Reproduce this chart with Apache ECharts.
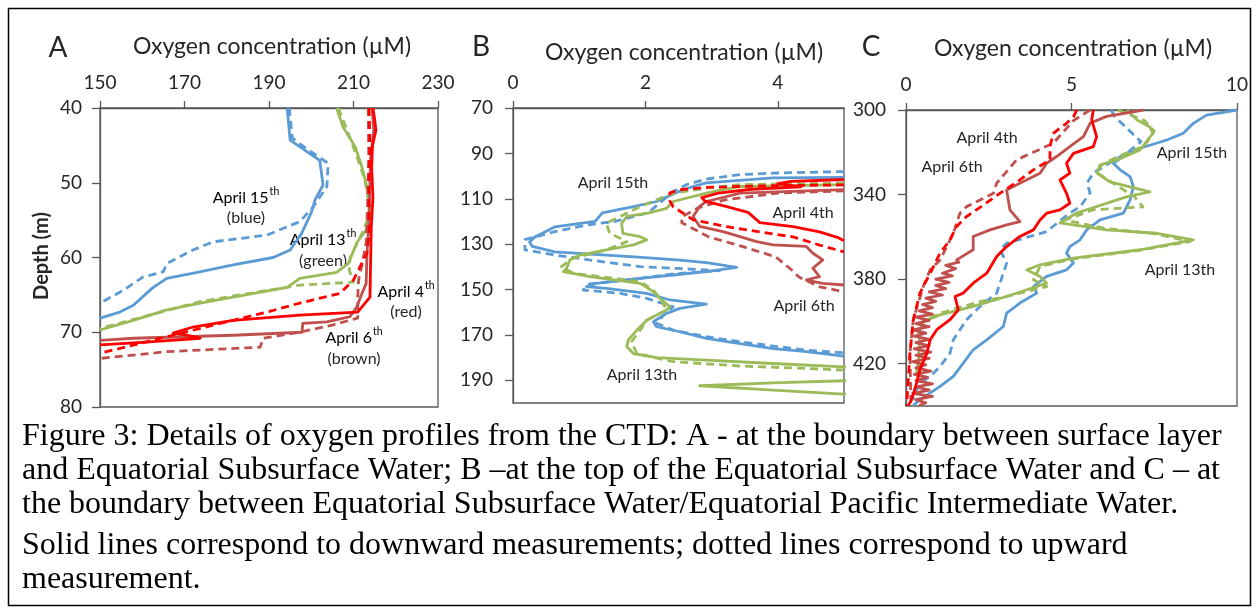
<!DOCTYPE html>
<html><head><meta charset="utf-8">
<script src="https://cdn.jsdelivr.net/npm/echarts@6/dist/echarts.min.js"></script>
<style>html,body{margin:0;padding:0;background:#fff;} #c{width:1259px;height:613px;}</style>
</head><body><div id="c"></div>
<script>
// ---------- Tick labels ----------
const A_xTicks = [150, 170, 190, 210, 230];
const A_yTicks = [40, 50, 60, 70, 80];
const B_xTicks = [0, 2, 4];
const B_yTicks = [70, 90, 110, 130, 150, 170, 190];
const C_xTicks = [0, 5, 10];
const C_yTicks = [300, 340, 380, 420];

// ---------- Panel A: [oxygen µM, depth m] ----------
const A_blue_down = [[194.3,40],[195,44.3],[202,47],[202.8,50.3],[200.9,52.3],[200,54],[197.7,56.8],[195,59],[191,60],[181.5,61],[173,62],[165.8,62.8],[162.6,64],[161,64.8],[157.9,66.4],[154.7,67.3],[150,68.1]];
const A_blue_up = [[194.8,40],[195.5,44],[199,45.5],[204,47.4],[203.7,50.5],[200.5,53.2],[197.3,55.2],[189.5,57],[176.8,57.9],[172,59],[165.8,60.8],[165,61.9],[160.2,62.6],[155.5,64.4],[150,66.1]];
const A_green_down = [[206,40],[207.5,42.5],[210.4,45.2],[212,47.9],[213.2,50.6],[214,54],[213.5,55.9],[210.8,58],[208.8,60.8],[206,62],[197.3,62.8],[194.3,64],[181.5,65.3],[173.7,66.1],[165.8,67],[157.9,68.4],[150,69.7]];
const A_green_up = [[206.4,40],[208.5,43],[210.8,46.5],[212.7,49.6],[214,54],[212,56.8],[209.2,60],[209,61.7],[210,63.3],[197.3,63.7],[189.5,64.4],[173.7,65.9],[161.8,67.7],[150,69.5]];
const A_red_down = [[214.6,40],[215,41.5],[215.3,43],[214.5,45],[214.3,48],[214.6,52],[214.2,56],[214,62.1],[213.9,65.3],[211,67.3],[197.3,67.7],[181.5,68.4],[172,69.3],[167.3,70.1],[170.5,70.4],[173.7,70.8],[161.8,71.3],[150,71.7]];
const A_red_up = [[213.7,40],[213.9,45],[213.6,50],[213.7,56.8],[213.2,59.4],[211.5,61.3],[210,63],[206.8,64.8],[197.3,66.1],[189.5,67.3],[181.5,68.4],[165.8,70.6],[159.5,71.5],[150,72.8]];
const A_brown_down = [[214.4,40],[214.8,43],[214,47],[213.8,52],[213.5,56.7],[213.2,59.4],[213,63.5],[212,64.8],[210.8,66.6],[209.2,67.9],[203.7,68.6],[198,68.8],[197.8,70],[181.5,70.4],[158,70.8],[150,71.1]];
const A_brown_up = [[213.5,40],[213.6,46],[213.4,52],[213,58],[212,61],[211.2,63],[211,65.3],[211,68.1],[205.2,69],[197.3,70],[188.6,70.8],[187.9,72],[165.8,72.6],[150,73.5]];

// ---------- Panel B ----------
const B_blue_down = [[5,100.6],[3.93,100.8],[2.92,103],[2.72,104.6],[2.49,107],[2.17,111.2],[1.8,113.6],[1.35,116.2],[1.24,120],[0.63,122.4],[0.33,126.8],[0.25,129],[0.29,131],[0.63,133.4],[1.89,135.7],[2.52,137],[2.92,138.1],[3.38,140.2],[2.92,142.1],[2.42,143.6],[1.92,145.1],[1.26,147.3],[1.11,148.7],[1.41,149.5],[2.02,151.7],[2.37,154.6],[2.92,156.4],[2.52,158.3],[2.32,160.5],[2.12,164.2],[2.17,166.4],[2.52,168.6],[2.92,171.5],[3.43,173.8],[3.93,176],[4.43,177.4],[5,179.3]];
const B_blue_up = [[5,98],[3.93,98.7],[3.43,99.4],[2.92,101.3],[2.62,103.8],[2.42,106.8],[2.04,116.2],[1.54,120],[1.13,121.5],[0.63,124.5],[0.18,128],[0.18,132.5],[0.63,134.8],[1.39,137.9],[1.92,139.9],[2.42,140.6],[3.12,141.7],[2.42,143.1],[1.72,145.8],[1.16,147.5],[1.06,150.2],[1.62,151.7],[2.02,153.9],[2.42,157.6],[2.32,159.8],[2.17,164.9],[2.42,167.9],[2.92,170.8],[3.43,173],[3.93,174.9],[4.43,176.7],[5,177.9]];
const B_green_down = [[5,103.8],[3.43,104.6],[3.17,106],[2.92,107.5],[2.42,111.2],[2.32,114.2],[2.02,116.4],[1.72,117.8],[1.64,120.8],[1.66,125.2],[1.92,126.7],[2.02,128.1],[1.82,130.3],[1.41,132.5],[1.01,134.8],[0.86,136.9],[0.81,140.6],[0.76,142.1],[1.16,144.3],[1.92,147.3],[2.12,150.9],[2.22,153.9],[2.37,157.6],[2.32,159],[2.02,163.5],[1.87,167.9],[1.74,172.3],[1.72,175.2],[1.82,178.2],[2.17,180],[2.92,181.1],[3.93,182.6],[5,184.1],[6,185],[6,189.5],[5,190.2],[3.93,191.1],[2.82,192.4],[3.93,194.3],[5,196.1],[6,197]];
const B_green_up = [[5,103],[3.43,103.8],[2.92,105.3],[2.42,107.5],[2.17,110.5],[1.92,113.4],[1.62,117.8],[1.41,120.8],[1.46,125.2],[1.72,128.9],[1.41,132.5],[0.91,136.2],[0.73,139.9],[0.91,142.8],[1.31,144.3],[1.92,146.5],[2.12,150.2],[2.24,154.6],[2.32,159],[2.02,163.5],[1.92,167.9],[1.79,173],[1.87,178.2],[2.42,181.8],[3.43,183.7],[4.43,184.8],[5,185.5]];
const B_red_down = [[5,101.5],[4.2,102.3],[4.0,103.3],[4.35,104.8],[3.6,105.8],[3.1,107.5],[2.85,109.5],[2.9,111],[3.23,113.5],[3.55,116],[3.73,120.5],[4.23,122.3],[4.63,124.6],[4.9,127],[5,128.5]];
const B_red_up = [[5,103.9],[3.93,104.2],[2.92,105],[2.52,106],[2.37,107.4],[2.37,111],[2.42,113.5],[2.72,119.3],[3.23,122.3],[3.73,124.6],[4.23,126.8],[4.63,130.4],[5,133.4]];
const B_brown_down = [[5,106],[3.43,107.5],[3.23,109],[2.92,111.2],[2.82,113.4],[2.72,117.8],[2.82,122.2],[3.17,124.5],[3.43,126.7],[3.68,128.9],[3.93,130.3],[4.43,131],[4.53,134],[4.68,136.9],[4.53,140.6],[4.63,144.3],[4.43,145.8],[4.68,147.3],[5,148]];
const B_brown_up = [[5,106.5],[4.0,107.5],[3.2,110.5],[2.8,114],[2.55,118],[2.55,120.6],[2.96,126.8],[3.46,131],[3.97,135.6],[4.21,141.4],[4.32,144.5],[4.63,148.8],[5,151]];

// ---------- Panel C ----------
const C_blue_down = [[10,300],[9.08,302.4],[8.68,306.3],[8.38,311],[7.88,314.2],[7.07,318.1],[6.57,322],[6.26,325.2],[6.47,328.3],[6.77,331.5],[6.87,336.2],[6.77,342.5],[6.57,348.8],[5.86,352],[5.46,356.7],[5.26,361.4],[4.95,364.6],[4.85,367.7],[5.06,372.4],[4.85,375.6],[4.25,378.7],[3.85,383.5],[3.95,386.6],[3.44,391.3],[3.04,396.1],[2.94,402.4],[2.44,408.7],[2.03,413.4],[1.73,419.7],[1.43,426],[1.03,430.7],[0.42,437],[0.22,439.8]];
const C_blue_up = [[6.2,300],[6.3,303],[7.1,315],[6.68,320.3],[6.16,325],[5.66,329.8],[5.47,334.5],[5.56,339.2],[5.26,345.8],[4.95,348.7],[4.25,357.5],[3.04,363],[2.84,366],[3.04,372.4],[2.84,381.9],[2.74,386.6],[2.24,392.9],[1.83,399.2],[1.43,408.7],[1.33,415],[1.03,421.3],[0.73,426],[0.42,429.1],[0.3,433],[0.22,437]];
const C_green_down = [[6.68,300],[6.98,304.7],[7.37,308],[7.46,311],[7.07,318.9],[6.37,323.6],[5.86,326],[5.77,329.8],[6.16,334],[7.37,338.7],[6.68,341],[5.16,348.7],[4.65,353.4],[6.06,356.7],[7.57,358.3],[8.68,361.4],[7.07,366.1],[5.06,370.1],[4.05,373.2],[3.65,375.6],[4.05,378.7],[4.25,381.9],[3.65,385],[3.04,388.2],[2.03,392.9],[1.03,396.9],[0.52,400],[0.42,403.9],[0.38,418],[0.32,424.4]];
const C_green_up = [[6.4,300],[7.2,305],[7.5,310],[7.2,317],[6.4,322],[5.9,326],[5.8,330],[6.2,334],[6.9,341],[7.16,345.8],[5.66,347.2],[4.8,352],[6.0,356],[7.5,358.5],[8.58,362.2],[7.0,366.5],[5.0,370.5],[4.05,374],[3.85,380.3],[4.25,383.5],[3.04,388.2],[2.24,390.6],[1.03,396.1],[0.42,400.8],[0.35,410]];
const C_red_down = [[5.66,300],[5.61,304.7],[5.76,312.6],[5.66,317.3],[5.06,320.5],[4.85,325.2],[4.95,329.9],[4.65,333.1],[4.85,339.4],[4.95,344.1],[4.65,347.2],[4.25,348.8],[4.05,352],[3.85,356.7],[3.44,359.8],[3.04,364.6],[2.74,369.3],[2.44,377.2],[2.03,381.9],[1.73,386.6],[1.48,388.2],[1.58,394.5],[1.33,399.2],[0.93,403.9],[0.73,408.7],[0.63,415],[0.42,422.8],[0.32,429.1],[0.17,437],[0.07,439.8]];
const C_red_up = [[5.16,300],[5.06,303.1],[4.85,306.3],[4.45,311],[4.35,317.3],[4.35,323.6],[3.85,328.3],[3.44,333.1],[2.84,339.4],[2.34,344.9],[1.83,350.4],[1.53,355.1],[1.33,361.4],[1.03,367.7],[0.73,377.2],[0.42,386.6],[0.22,399.2],[0.12,415],[0.02,439.8]];
const C_brown_down = [[7.17,300],[6.06,303],[5.56,306.3],[5.36,312.6],[5.06,316],[4.55,322],[4.25,325.2],[4.05,329.9],[3.44,334.6],[3.04,337.8],[3.14,347.2],[3.44,352.8],[3.04,354.3],[2.54,356.7],[2.03,359.8],[2.03,366.1],[1.53,370.9],[1.6,372],[1.2,373.5],[1.5,375],[1.1,377.2],[1.4,378.5],[0.9,380],[1.3,381.5],[0.9,383],[1.2,384.5],[0.7,386],[1.1,387.5],[0.6,389],[0.9,390.5],[0.5,392],[0.8,393.5],[0.4,395],[0.8,396.5],[0.3,398],[0.7,399.5],[0.3,401],[0.7,402.5],[0.2,404],[0.6,405.5],[0.25,407],[0.7,408.5],[0.3,410],[0.7,411.5],[0.25,413],[0.75,414.5],[0.3,416],[0.7,417.5],[0.2,419],[0.6,420.5],[0.3,422],[0.75,423.5],[0.25,425],[0.65,426.5],[0.3,428],[0.8,429.5],[0.3,431],[0.7,432.5],[0.2,434],[0.8,435.5],[0.3,437],[0.6,438.5],[0.4,439.8]];
const C_brown_up = [[5.56,300],[5.06,305],[4.45,315.7],[3.34,323.6],[2.74,334.6],[2.64,339.4],[1.83,345.7],[1.63,348.8],[1.43,358.3],[1.03,370.9],[0.73,375.6],[0.52,383.5],[0.22,399.2],[0.12,415],[0.15,439.8]];

const COL = { blue: '#5B9BD5', green: '#9BBB59', red: '#FF0000', brown: '#C0504D' };
const AXC = '#595959', TXT = '#262626';
const FONT = 'Lato';

function ln(data, color, dashed, idx) {
  return { type: 'line', data: data, xAxisIndex: idx, yAxisIndex: idx, symbol: 'none', showSymbol: false,
    silent: true, animation: false, clip: true,
    lineStyle: { color: color, width: 2.8, type: dashed ? [8, 5] : 'solid', cap: 'butt', join: 'round' } };
}
function xAx(idx, min, max, ticks) {
  return { gridIndex: idx, type: 'value', position: 'top', min: min, max: max,
    axisLine: { show: true, lineStyle: { color: AXC, width: 1.3 } },
    axisTick: { show: true, customValues: ticks, length: 7, lineStyle: { color: AXC, width: 1.3 } },
    axisLabel: { customValues: ticks, margin: 16, color: TXT, fontSize: 19, fontFamily: FONT },
    splitLine: { show: false } };
}
function yAx(idx, min, max, ticks, margin) {
  return { gridIndex: idx, type: 'value', inverse: true, min: min, max: max,
    axisLine: { show: true, lineStyle: { color: AXC, width: 1.3 } },
    axisTick: { show: true, customValues: ticks, length: 8, lineStyle: { color: AXC, width: 1.3 } },
    axisLabel: { customValues: ticks, margin: margin, color: TXT, fontSize: 19, fontFamily: FONT },
    splitLine: { show: false } };
}
const gridStyle = { show: true, borderColor: AXC, borderWidth: 1.3, backgroundColor: 'transparent' };

function txt(x, y, text, size, opts) {
  return Object.assign({ type: 'text', x: x, y: y, silent: true,
    style: Object.assign({ text: text, font: size + 'px ' + FONT, fill: TXT, align: 'center', verticalAlign: 'middle' }, opts || {}) });
}
function supTxt(x, y, main, sup) {
  return { type: 'text', x: x, y: y, silent: true,
    style: { text: '{a|' + main + '}{s|' + sup + '}', align: 'center', verticalAlign: 'middle',
      rich: { a: { fontSize: 16, fontFamily: FONT, color: TXT, lineHeight: 20, verticalAlign: 'bottom' },
              s: { fontSize: 10.5, fontFamily: FONT, color: TXT, lineHeight: 20, verticalAlign: 'top', padding: [0, 0, 0, 1] } } } };
}
function cap(y, text) {
  return { type: 'text', x: 22, y: y, silent: true,
    style: { text: text, font: '32px "Liberation Serif"', fill: '#000', align: 'left', verticalAlign: 'middle' } };
}

const chart = echarts.init(document.getElementById('c'), null, { renderer: 'canvas' });
chart.setOption({
  animation: false,
  backgroundColor: '#fff',
  grid: [
    Object.assign({ left: 100, top: 108, width: 338, height: 299 }, gridStyle),
    Object.assign({ left: 513, top: 108, width: 331, height: 295 }, gridStyle),
    Object.assign({ left: 906, top: 110, width: 331, height: 296 }, gridStyle)
  ],
  xAxis: [ xAx(0, 150, 230, A_xTicks), xAx(1, 0, 5, B_xTicks), xAx(2, 0, 10, C_xTicks) ],
  yAxis: [ yAx(0, 40, 80, A_yTicks, 18), yAx(1, 70, 200, B_yTicks, 20), yAx(2, 300, 440, C_yTicks, 20) ],
  series: [
    ln(A_blue_down, COL.blue, false, 0), ln(A_blue_up, COL.blue, true, 0),
    ln(A_green_down, COL.green, false, 0), ln(A_green_up, COL.green, true, 0),
    ln(A_brown_down, COL.brown, false, 0), ln(A_brown_up, COL.brown, true, 0),
    ln(A_red_up, COL.red, true, 0), ln(A_red_down, COL.red, false, 0),

    ln(B_blue_down, COL.blue, false, 1), ln(B_blue_up, COL.blue, true, 1),
    ln(B_green_down, COL.green, false, 1), ln(B_green_up, COL.green, true, 1),
    ln(B_brown_down, COL.brown, false, 1), ln(B_brown_up, COL.brown, true, 1),
    ln(B_red_up, COL.red, true, 1), ln(B_red_down, COL.red, false, 1),

    ln(C_blue_down, COL.blue, false, 2), ln(C_blue_up, COL.blue, true, 2),
    ln(C_green_down, COL.green, false, 2), ln(C_green_up, COL.green, true, 2),
    ln(C_brown_down, COL.brown, false, 2), ln(C_brown_up, COL.brown, true, 2),
    ln(C_red_up, COL.red, true, 2), ln(C_red_down, COL.red, false, 2)
  ],
  graphic: [
    { type: 'rect', shape: { x: 8.5, y: 8.5, width: 1242, height: 597 }, style: { fill: 'none', stroke: '#000', lineWidth: 1.5 }, silent: true, z: 0 },
    txt(58, 48, 'A', 28), txt(272, 47, 'Oxygen concentration (µM)', 23),
    txt(481, 47, 'B', 28), txt(684, 53, 'Oxygen concentration (µM)', 23),
    txt(871, 47, 'C', 28), txt(1073, 49, 'Oxygen concentration (µM)', 23),
    { type: 'text', x: 42, y: 256, rotation: Math.PI / 2, silent: true,
      style: { text: 'Depth (m)', font: 'bold 20px ' + FONT, fill: TXT, align: 'center', verticalAlign: 'middle' } },
    supTxt(246, 196, 'April 15', 'th'), txt(246, 218, '(blue)', 16),
    supTxt(323, 238, 'April 13', 'th'), txt(323, 261, '(green)', 16),
    supTxt(406, 290, 'April 4', 'th'), txt(406, 312, '(red)', 16),
    supTxt(354, 336, 'April 6', 'th'), txt(354, 359, '(brown)', 16),
    txt(613, 183, 'April 15th', 16), txt(803, 213, 'April 4th', 16),
    txt(804, 306, 'April 6th', 16), txt(642, 375, 'April 13th', 16),
    txt(987, 138, 'April 4th', 16), txt(952, 167, 'April 6th', 16),
    txt(1192, 153, 'April 15th', 16), txt(1180, 270, 'April 13th', 16),
    cap(437, 'Figure 3: Details of oxygen profiles from the CTD: A - at the boundary between surface layer'),
    cap(471, 'and Equatorial Subsurface Water; B \u2013at the top of the Equatorial Subsurface Water and C \u2013 at'),
    cap(505, 'the boundary between Equatorial Subsurface Water/Equatorial Pacific Intermediate Water.'),
    cap(546, 'Solid lines correspond to downward measurements; dotted lines correspond to upward'),
    cap(580, 'measurement.')
  ]
});
</script></body></html>
